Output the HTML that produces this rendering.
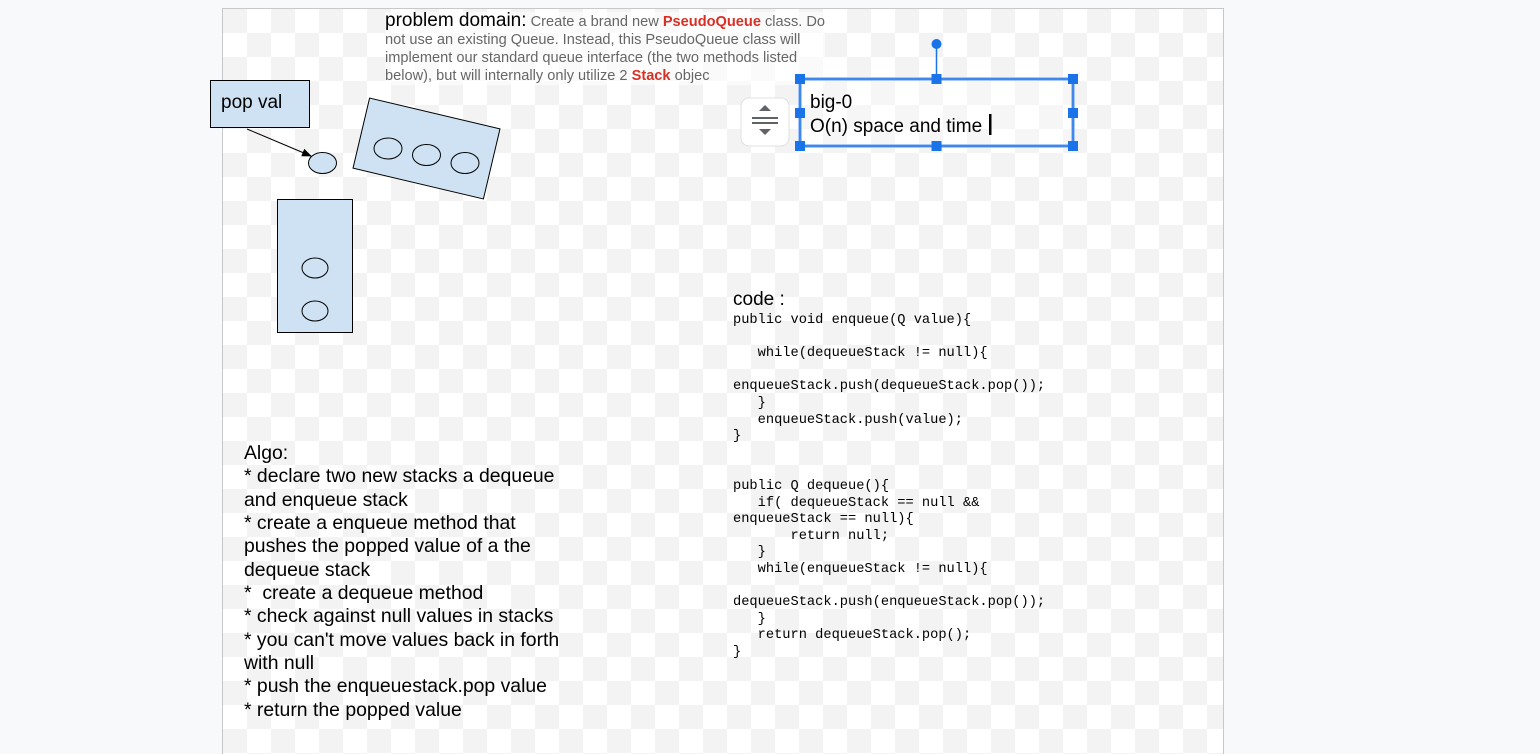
<!DOCTYPE html>
<html style="height:754px;overflow:hidden"><head><meta charset="utf-8"><style>
body{margin:0;width:1540px;height:754px;background:#f8f9fa;position:relative;overflow:hidden;font-family:"Liberation Sans",sans-serif}
#page{position:absolute;left:222px;top:8px;width:1000px;height:746px;border:1px solid #c8c8c8;border-bottom:none;
background-color:#fff;
background-image:linear-gradient(45deg,#f3f3f3 25%,transparent 25%,transparent 75%,#f3f3f3 75%),linear-gradient(45deg,#f3f3f3 25%,transparent 25%,transparent 75%,#f3f3f3 75%);
background-size:48px 48px;background-position:24px 0,0 24px}
.a{position:absolute;white-space:pre}
pre{margin:0;font-family:"Liberation Mono",monospace;font-size:13.7px;line-height:16.6px;color:#000}
</style></head><body>
<div id="page"></div>
<div class="a" style="left:385px;top:12px;line-height:18px;font-size:14.6px;color:#666;background:rgba(255,255,255,0.6)"><span style="font-size:19px;color:#000">problem domain:</span> Create a brand new <b style="color:#d93025">PseudoQueue</b> class. Do
not use an existing Queue. Instead, this PseudoQueue class will
implement our standard queue interface (the two methods listed
below), but will internally only utilize 2 <b style="color:#d93025">Stack</b> objec</div>
<svg width="1540" height="754" style="position:absolute;left:0;top:0">
<defs><marker id="ar" markerWidth="10" markerHeight="8" refX="9" refY="4" orient="auto" markerUnits="userSpaceOnUse"><path d="M0,0L10,4L0,8z" fill="#000"/></marker></defs>
<rect x="210.5" y="80.5" width="99" height="47" fill="#cfe2f3" stroke="#000"/>
<line x1="247" y1="129" x2="311" y2="156" stroke="#000" stroke-width="1" marker-end="url(#ar)"/>
<ellipse cx="322.5" cy="163" rx="14" ry="10.5" fill="#cfe2f3" stroke="#000"/>
<g transform="translate(426.5,148.5) rotate(13.3)"><rect x="-67" y="-36" width="134" height="72" fill="#cfe2f3" stroke="#000"/></g>
<ellipse cx="388" cy="148.5" rx="14" ry="10.5" fill="none" stroke="#000"/>
<ellipse cx="426.5" cy="155" rx="14" ry="10.5" fill="none" stroke="#000"/>
<ellipse cx="465" cy="163" rx="14" ry="10.5" fill="none" stroke="#000"/>
<rect x="277.5" y="199.5" width="75" height="133" fill="#cfe2f3" stroke="#000"/>
<ellipse cx="315" cy="268" rx="13" ry="10" fill="none" stroke="#000"/>
<ellipse cx="315" cy="311" rx="13" ry="10" fill="none" stroke="#000"/>
<rect x="800" y="79" width="273" height="67" fill="#fff" fill-opacity="0.3" stroke="#a8c7fa" stroke-width="4"/>
<rect x="800" y="79" width="273" height="67" fill="none" stroke="#1a73e8" stroke-width="1.5"/>
<line x1="936.5" y1="44" x2="936.5" y2="79" stroke="#1a73e8" stroke-width="1.5"/>
<circle cx="936.5" cy="44" r="5" fill="#1a73e8"/>
<g fill="#1a73e8"><rect x="795" y="74" width="10" height="10"/><rect x="931.5" y="74" width="10" height="10"/><rect x="1068" y="74" width="10" height="10"/><rect x="795" y="108" width="10" height="10"/><rect x="1068" y="108" width="10" height="10"/><rect x="795" y="141" width="10" height="10"/><rect x="931.5" y="141" width="10" height="10"/><rect x="1068" y="141" width="10" height="10"/></g>
<rect x="741" y="98" width="48" height="48" rx="8" fill="#fff" stroke="#e0e0e0"/>
<g fill="#5f6368"><path d="M759,111L765,105L771,111z"/><rect x="752" y="117" width="26" height="2"/><rect x="752" y="122" width="26" height="2"/><path d="M759,129L765,135L771,129z"/></g>
<rect x="989" y="114" width="2.5" height="21" fill="#000"/>
</svg>
<div class="a" style="left:810px;top:91px;font-size:19px;line-height:23.5px">big-0
O(n) space and time</div>
<div class="a" style="left:733px;top:289px;font-size:19px">code :</div>
<pre class="a" style="left:733px;top:313px">public void enqueue(Q value){

   while(dequeueStack != null){

enqueueStack.push(dequeueStack.pop());
   }
   enqueueStack.push(value);
}


public Q dequeue(){
   if( dequeueStack == null &amp;&amp;
enqueueStack == null){
       return null;
   }
   while(enqueueStack != null){

dequeueStack.push(enqueueStack.pop());
   }
   return dequeueStack.pop();
}</pre>
<div class="a" style="left:221px;top:92px;font-size:19px">pop val</div>
<div class="a" style="left:244px;top:442px;font-size:19.4px;line-height:23.35px">Algo:
* declare two new stacks a dequeue
and enqueue stack
* create a enqueue method that
pushes the popped value of a the
dequeue stack
*  create a dequeue method
* check against null values in stacks
* you can't move values back in forth
with null
* push the enqueuestack.pop value
* return the popped value</div>
</body></html>
